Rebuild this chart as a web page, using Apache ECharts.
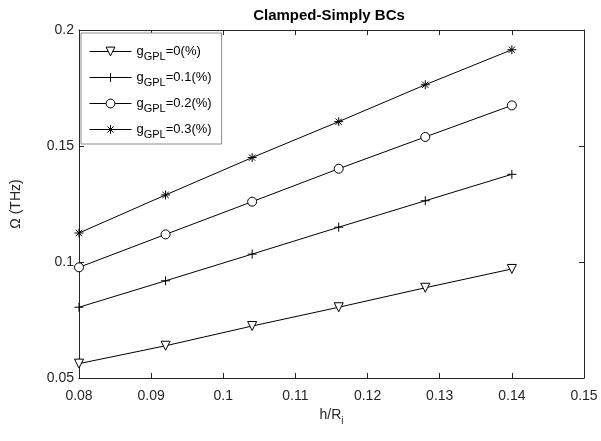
<!DOCTYPE html>
<html>
<head>
<meta charset="utf-8">
<script src="https://cdn.jsdelivr.net/npm/echarts@6/dist/echarts.min.js"></script>
<style>
  html, body { margin: 0; padding: 0; background: #fff; }
  #chart { width: 601px; height: 441px; }
</style>
</head>
<body>
<div id="chart"></div>
<script>
// ── data ────────────────────────────────────────────────
const xVals   = [0.08, 0.092, 0.104, 0.116, 0.128, 0.14]
const gpl0    = [0.0562, 0.0639, 0.0724, 0.0805, 0.0889, 0.0970]
const gpl01   = [0.0805, 0.0919, 0.1034, 0.1150, 0.1264, 0.1378]
const gpl02   = [0.0977, 0.1119, 0.1260, 0.1402, 0.1539, 0.1675]
const gpl03   = [0.1125, 0.1289, 0.1450, 0.1605, 0.1764, 0.1915]
const names   = ['0', '0.1', '0.2', '0.3']

const FONT = '"Liberation Sans", Arial, sans-serif'
const INK  = '#262626'

// MATLAB-like markers (hollow, thin stroke)
const SYMBOLS = [
  'path://M-1,-0.85L1,-0.85L0,0.85Z',
  'path://M0,-1L0,1M-1,0L1,0',
  'path://M1,0A1,1,0,1,1,-1,0A1,1,0,1,1,1,0Z',
  'path://M0,-1L0,1M-1,0L1,0M-0.7,-0.7L0.7,0.7M-0.7,0.7L0.7,-0.7',
]

const seriesData = [gpl0, gpl01, gpl02, gpl03]

const chart = echarts.init(document.getElementById('chart'), null, { renderer: 'canvas' })

const axisCommon = {
  axisLine: { show: true, lineStyle: { color: INK, width: 1 } },
  axisTick: { show: true, inside: true, length: 5, lineStyle: { color: INK } },
  splitLine: { show: false },
}
const fmt = v => String(+v.toFixed(3))

chart.setOption({
  backgroundColor: '#fff',
  animation: false,
  title: {
    text: 'Clamped-Simply BCs',
    left: 324, textAlign: 'center', top: 3,
    textStyle: { fontFamily: FONT, fontSize: 15, fontWeight: 'bold', color: '#000' },
  },
  grid: { left: 79, right: 17, top: 30, bottom: 63 },
  legend: {
    orient: 'vertical',
    left: 81, top: 33,
    padding: [12, 10, 4, 8],
    itemGap: 9,
    itemWidth: 42, itemHeight: 11,
    borderColor: '#8c8c8c', borderWidth: 1,
    backgroundColor: '#fff',
    lineStyle: { width: 1, color: '#000' },
    itemStyle: { borderWidth: 1, borderColor: '#000', color: '#fff' },
    textStyle: {
      fontFamily: FONT, fontSize: 13, color: '#000',
      rich: { sub: { fontFamily: FONT, fontSize: 11, color: '#000', verticalAlign: 'top', padding: [10, 0, 0, 0] } },
    },
    data: names.map(n => `g{sub|GPL}=${n}(%)`),
  },
  xAxis: [
    {
      ...axisCommon,
      type: 'value', min: 0.08, max: 0.15, interval: 0.01,
      name: 'h/R{sub|i}', nameLocation: 'middle', nameGap: 26,
      nameTextStyle: {
        fontFamily: FONT, fontSize: 14, color: INK,
        rich: { sub: { fontFamily: FONT, fontSize: 10, color: INK, padding: [12, 0, 0, 0] } },
      },
      axisLabel: { fontFamily: FONT, fontSize: 14, color: INK, margin: 11, formatter: fmt },
    },
    {
      ...axisCommon,
      type: 'value', min: 0.08, max: 0.15, interval: 0.01, position: 'top',
      axisLabel: { show: false },
    },
  ],
  yAxis: [
    {
      ...axisCommon,
      type: 'value', min: 0.05, max: 0.2, interval: 0.05,
      name: 'Ω (THz)', nameLocation: 'middle', nameGap: 56,
      nameTextStyle: { fontFamily: FONT, fontSize: 14, color: INK },
      axisLabel: { fontFamily: FONT, fontSize: 14, color: INK, margin: 5, formatter: fmt },
    },
    {
      ...axisCommon,
      type: 'value', min: 0.05, max: 0.2, interval: 0.05, position: 'right',
      axisLabel: { show: false },
    },
  ],
  series: seriesData.map((vals, i) => ({
    name: `g{sub|GPL}=${names[i]}(%)`,
    type: 'line',
    data: xVals.map((x, j) => [x, vals[j]]),
    symbol: SYMBOLS[i],
    symbolSize: 9,
    showAllSymbol: true,
    lineStyle: { color: '#000', width: 1 },
    itemStyle: { color: '#fff', borderColor: '#000', borderWidth: 1 },
    emphasis: { disabled: true },
  })),
})
</script>
</body>
</html>
